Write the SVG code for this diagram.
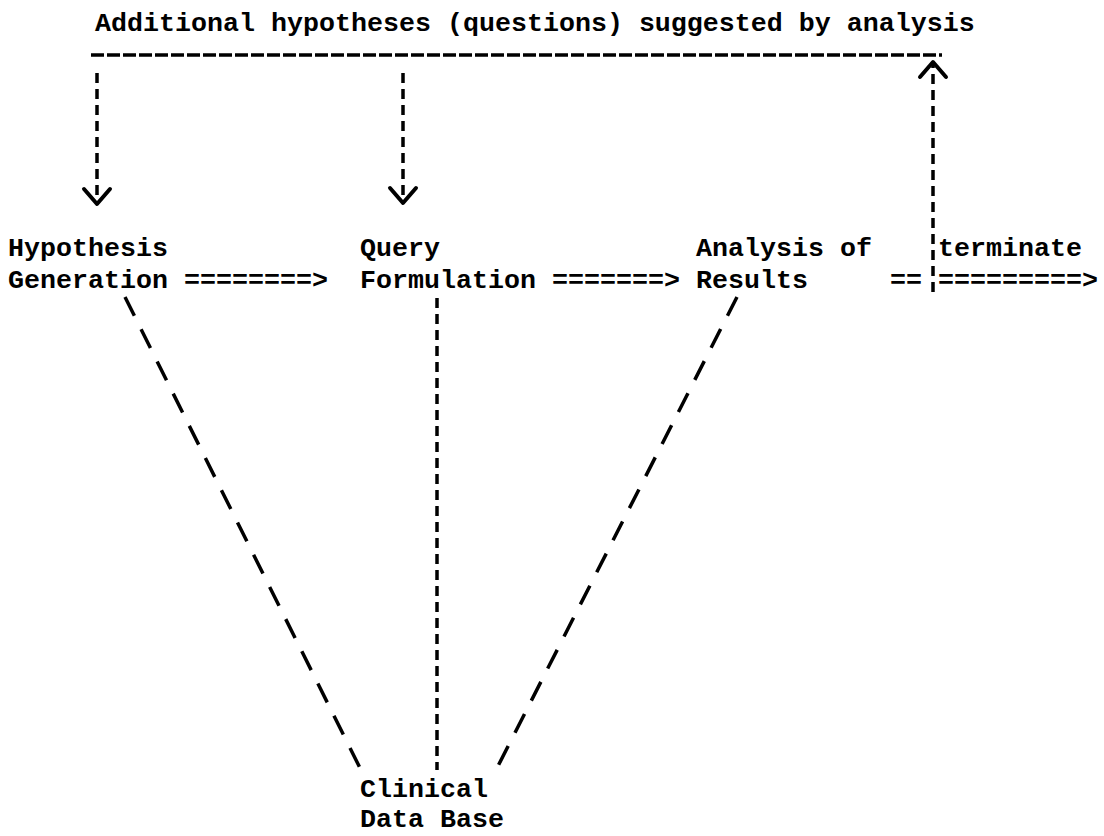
<svg xmlns="http://www.w3.org/2000/svg" width="1104" height="836" viewBox="0 0 1104 836">
  <style>
    .t { font-family: "Liberation Mono", "DejaVu Sans Mono", monospace; font-size: 26.67px; font-weight: bold; fill: #000; }
    .h { fill: none; stroke: #000; stroke-width: 3.5; stroke-dasharray: 13 3; }
    .v { fill: none; stroke: #000; stroke-width: 3.5; stroke-dasharray: 10 6; }
    .d { fill: none; stroke: #000; stroke-width: 3.5; stroke-dasharray: 21 15; }
    .head { fill: none; stroke: #000; stroke-width: 4; stroke-linecap: round; stroke-linejoin: round; }
  </style>
  <defs>
    <marker id="chev" markerUnits="userSpaceOnUse" markerWidth="40" markerHeight="40" viewBox="-20 -20 40 40" refX="0" refY="0" orient="auto">
      <path class="head" d="M-15,-13 L0,0 L-15,13"/>
    </marker>
  </defs>
  <rect width="1104" height="836" fill="#fff"/>

  <g id="title">
    <text class="t" x="95" y="31">Additional hypotheses (questions) suggested by analysis</text>
  </g>
  <g id="hypothesis-generation">
    <text class="t" x="8" y="256">Hypothesis</text>
    <text class="t" x="8" y="288">Generation</text>
  </g>
  <g id="query-formulation">
    <text class="t" x="360" y="256">Query</text>
    <text class="t" x="360" y="288">Formulation</text>
  </g>
  <g id="analysis-of-results">
    <text class="t" x="696" y="256">Analysis of</text>
    <text class="t" x="696" y="288">Results</text>
  </g>
  <g id="terminate">
    <text class="t" x="938" y="256">terminate</text>
  </g>
  <g id="clinical-data-base">
    <text class="t" x="360" y="797">Clinical</text>
    <text class="t" x="360" y="827">Data Base</text>
  </g>

  <g id="connectors">
    <text class="t" x="184" y="288">========&gt;</text>
    <text class="t" x="552" y="288">=======&gt;</text>
    <text class="t" x="890" y="288">==</text>
    <text class="t" x="938" y="288">=========&gt;</text>
    <line class="h" x1="91" y1="55" x2="942" y2="55"/>
    <line class="v" x1="97" y1="73" x2="97" y2="204" marker-end="url(#chev)"/>
    <line class="v" x1="403" y1="73" x2="403" y2="203" marker-end="url(#chev)"/>
    <line class="v" x1="933" y1="292" x2="933" y2="62" marker-end="url(#chev)"/>
    <line class="d" x1="125" y1="297" x2="360" y2="768"/>
    <line class="v" x1="437" y1="298" x2="437" y2="770"/>
    <line class="d" x1="737" y1="297" x2="497" y2="768"/>
  </g>
</svg>
